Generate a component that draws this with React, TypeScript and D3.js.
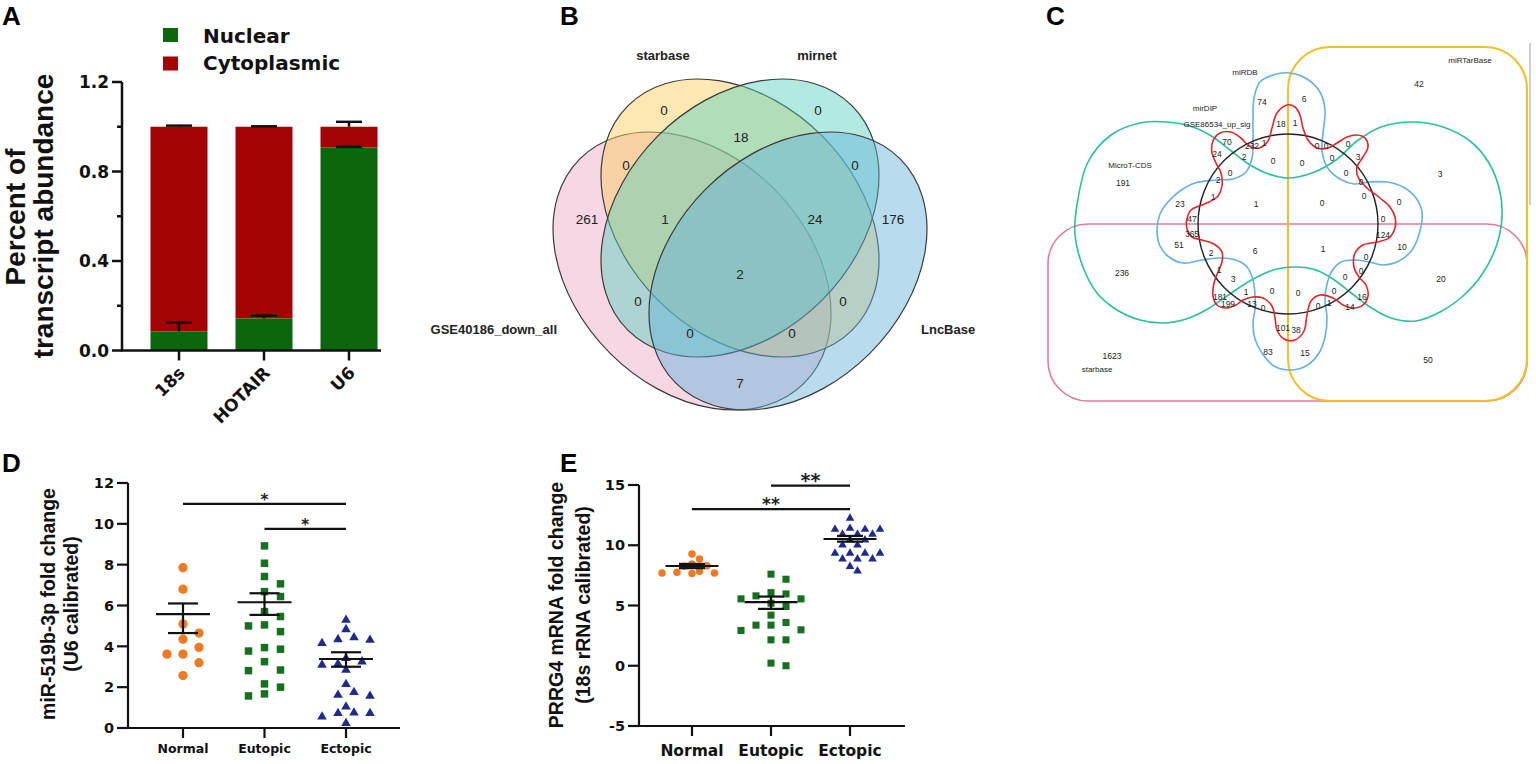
import React from 'react';
import * as d3 from 'd3';

const SANS = '"Liberation Sans", Arial, Helvetica, sans-serif';
const WIDE = '"DejaVu Sans", Verdana, sans-serif';

// ---------------- Panel A data ----------------
const aCategories = ['18s', 'HOTAIR', 'U6'];
const aNuclear = [0.085, 0.143, 0.908];
const aNuclearErr = [0.04, 0.013, 0.002];
const aTotal = [1.0, 1.0, 1.0];
const aTotalErr = [0.005, 0.002, 0.022];
const aMajorTicks = [0, 0.4, 0.8, 1.2];
const aMinorTicks = [0.2, 0.6, 1.0];
const aLegend = ['Nuclear', 'Cytoplasmic'];
const aColors = ['#0b670b', '#a30303'];

// ---------------- Panel B data ----------------
const bSetNames = ['GSE40186_down_all', 'starbase', 'mirnet', 'LncBase'];
const bColors = ['#eba6c2', '#fbcd58', '#55d1bd', '#62b2da'];
const bCounts = ['0', '18', '0', '0', '0', '261', '1', '24', '176', '2', '0', '0', '0', '0', '7'];

// ---------------- Panel C data ----------------
const cSetNames = ['miRDB', 'mirDIP', 'GSE86534_up_sig', 'MicroT-CDS', 'miRTarBase', 'starbase'];
const cCounts = [
  '74', '18', '1', '6', '70', '232', '1', '24', '2', '0', '191', '0', '2', '1', '23', '1',
  '42', '0', '0', '0', '0', '0', '3', '0', '0', '3', '0', '0', '0',
  '47', '365', '51', '2', '6', '236', '1', '3', '181', '1', '0', '199', '13', '0', '101', '83', '1623',
  '0', '124', '1', '10', '0', '0', '0', '20', '0', '0', '16', '0', '1', '14', '38', '15', '50',
];

// ---------------- Panel D data ----------------
const dGroups = ['Normal', 'Eutopic', 'Ectopic'];
const dNormal = [7.85, 6.8, 5.1, 4.65, 4.35, 3.95, 3.62, 3.62, 3.2, 2.57];
const dEutopic = [8.92, 8.07, 7.42, 7.06, 6.68, 6.44, 5.7, 5.46, 5.05, 5.0, 4.72, 3.94, 3.86, 3.77, 3.25, 2.84, 2.81, 2.16, 2.0, 1.67, 1.57];
const dEctopic = [5.29, 4.83, 4.43, 4.34, 4.31, 4.15, 3.42, 3.25, 3.14, 3.09, 2.84, 2.14, 1.75, 1.62, 1.57, 1.04, 0.75, 0.72, 0.72, 0.55, 0.23];
const dMean = [5.58, 6.16, 3.38];
const dSemHigh = [6.1, 6.6, 3.71];
const dSemLow = [4.65, 5.54, 3.0];
const dTicks = [0, 2, 4, 6, 8, 10, 12];
const dSig = [
  { a: 'Normal', b: 'Ectopic', y: 10.98, label: '*' },
  { a: 'Eutopic', b: 'Ectopic', y: 9.75, label: '*' },
];

// ---------------- Panel E data ----------------
const eGroups = ['Normal', 'Eutopic', 'Ectopic'];
const eNormal = [9.28, 8.86, 8.45, 8.3, 8.25, 7.85, 7.75, 7.7, 7.7, 7.65];
const eEutopic = [7.6, 7.18, 6.07, 5.96, 5.8, 5.55, 5.55, 5.19, 4.92, 4.2, 3.59, 3.37, 3.37, 2.98, 2.93, 2.15, 2.15, 0.22, 0.0];
const eEctopic = [12.24, 11.4, 11.32, 11.32, 11.32, 10.91, 10.91, 10.91, 10.44, 10.44, 10.02, 10.02, 9.33, 9.33, 9.33, 9.33, 8.86, 8.86, 8.86, 8.23, 7.87];
const eMean = [8.28, 5.28, 10.52];
const eSemHigh = [8.45, 5.74, 10.77];
const eSemLow = [8.1, 4.72, 10.3];
const eTicks = [-5, 0, 5, 10, 15];
const eSig = [
  { a: 'Eutopic', b: 'Ectopic', y: 14.94, label: '**' },
  { a: 'Normal', b: 'Ectopic', y: 13.0, label: '**' },
];

const markerColors = ['#ef7a22', '#17701f', '#1f2a8c'];
const markerTypes = [d3.symbolCircle, d3.symbolSquare, d3.symbolTriangle];

// ================= Panel A =================
function PanelA() {
  const y = d3.scaleLinear().domain([0, 1.2]).range([350.5, 82]);
  const x = d3.scalePoint<string>().domain(aCategories).range([179, 349]);
  const bw = 57;
  const axX = 122;
  const cap = 13;
  return (
    <g>
      <text x={2} y={25} fontFamily={SANS} fontWeight="bold" fontSize={26}>A</text>
      {aLegend.map((name, i) => (
        <g key={name}>
          <rect x={163} y={28 + i * 28.5} width={15} height={14} fill={aColors[i]} />
          <text x={203} y={42.5 + i * 27.5} fontFamily={WIDE} fontWeight="bold" fontSize={20} fill="#111">{name}</text>
        </g>
      ))}
      {aCategories.map((c, i) => {
        const cx = x(c)!;
        return (
          <g key={c}>
            <rect x={cx - bw / 2} y={y(aTotal[i])} width={bw} height={y(aNuclear[i]) - y(aTotal[i])} fill={aColors[1]} />
            <rect x={cx - bw / 2} y={y(aNuclear[i])} width={bw} height={y(0) - y(aNuclear[i])} fill={aColors[0]} />
            <line x1={cx} x2={cx} y1={y(aNuclear[i])} y2={y(aNuclear[i] + aNuclearErr[i])} stroke="#111" strokeWidth={2.5} />
            <line x1={cx - cap} x2={cx + cap} y1={y(aNuclear[i] + aNuclearErr[i])} y2={y(aNuclear[i] + aNuclearErr[i])} stroke="#111" strokeWidth={2.5} />
            <line x1={cx} x2={cx} y1={y(aTotal[i])} y2={y(aTotal[i] + aTotalErr[i])} stroke="#111" strokeWidth={2.5} />
            <line x1={cx - cap} x2={cx + cap} y1={y(aTotal[i] + aTotalErr[i])} y2={y(aTotal[i] + aTotalErr[i])} stroke="#111" strokeWidth={2.5} />
            <line x1={cx} x2={cx} y1={y(0)} y2={y(0) + 10} stroke="#111" strokeWidth={2.5} />
            <text transform={`translate(${cx + 7},${374}) rotate(-45)`} textAnchor="end" fontFamily={WIDE} fontWeight="bold" fontSize={17} fill="#111">{c}</text>
          </g>
        );
      })}
      <line x1={axX} x2={axX} y1={y(1.2)} y2={y(0)} stroke="#111" strokeWidth={2.5} />
      <line x1={axX - 1.25} x2={381} y1={y(0)} y2={y(0)} stroke="#111" strokeWidth={2.5} />
      {aMajorTicks.map((t) => (
        <g key={'M' + t}>
          <line x1={axX - 10} x2={axX} y1={y(t)} y2={y(t)} stroke="#111" strokeWidth={2.5} />
          <text x={109} y={y(t)} dy="0.36em" textAnchor="end" fontFamily={WIDE} fontWeight="bold" fontSize={17} fill="#111">{t.toFixed(1)}</text>
        </g>
      ))}
      {aMinorTicks.map((t) => (
        <line key={'m' + t} x1={axX - 5} x2={axX} y1={y(t)} y2={y(t)} stroke="#111" strokeWidth={2.5} />
      ))}
      <text transform="translate(25,217) rotate(-90)" textAnchor="middle" fontFamily={SANS} fontWeight="bold" fontSize={28} fill="#111">Percent of</text>
      <text transform="translate(53,216) rotate(-90)" textAnchor="middle" fontFamily={SANS} fontWeight="bold" fontSize={28} fill="#111">transcript abundance</text>
    </g>
  );
}

// ================= Panel B =================
const bRx = 158.6;
const bRy = 116.1;
const bEllipseLayout = [
  { cx: 692, cy: 271, rot: 45 },
  { cx: 740, cy: 218, rot: 45 },
  { cx: 740, cy: 218, rot: -45 },
  { cx: 788, cy: 271, rot: -45 },
];
const bCountPos: [number, number][] = [
  [664, 110], [741, 137], [818, 110], [626, 165], [855, 165], [587, 219], [665, 219], [815, 219], [893, 219],
  [740, 274], [638, 301], [843, 301], [690, 333], [792, 333], [740, 383],
];
const bNamePos: { x: number; y: number; anchor: string }[] = [
  { x: 557, y: 334, anchor: 'end' },
  { x: 663, y: 60, anchor: 'middle' },
  { x: 817, y: 60, anchor: 'middle' },
  { x: 921, y: 334, anchor: 'start' },
];

function PanelB() {
  return (
    <g>
      <text x={560} y={25} fontFamily={SANS} fontWeight="bold" fontSize={26}>B</text>
      {bEllipseLayout.map((e, i) => (
        <ellipse key={i} cx={e.cx} cy={e.cy} rx={bRx} ry={bRy} transform={`rotate(${e.rot} ${e.cx} ${e.cy})`}
          fill={bColors[i]} fillOpacity={0.45} stroke="#3a3a3a" strokeWidth={1.2} />
      ))}
      {bCounts.map((c, i) => (
        <text key={i} x={bCountPos[i][0]} y={bCountPos[i][1]} dy="0.36em" textAnchor="middle" fontFamily={SANS} fontSize={13.5} fill="#222">{c}</text>
      ))}
      {bSetNames.map((n, i) => (
        <text key={n} x={bNamePos[i].x} y={bNamePos[i].y} textAnchor={bNamePos[i].anchor as any} fontFamily={SANS} fontWeight="bold" fontSize={13} fill="#222">{n}</text>
      ))}
    </g>
  );
}

// ================= Panel C =================
const cRed: [number, number][] = [
  [1287, 105], [1295, 107], [1300, 115], [1303, 128], [1308, 140], [1317, 148], [1328, 148], [1337, 143], [1347, 137],
  [1357, 135], [1365, 138], [1368, 147], [1363, 157], [1357, 167], [1358, 177], [1367, 188], [1380, 198], [1390, 207],
  [1395, 217], [1395, 228], [1389, 238], [1377, 242], [1363, 245], [1355, 253], [1354, 267], [1359, 277], [1366, 285],
  [1368, 296], [1363, 305], [1353, 308], [1343, 305], [1333, 298], [1320, 295], [1311, 301], [1307, 315], [1304, 331],
  [1295, 340], [1284, 339], [1277, 330], [1275, 318], [1272, 306], [1263, 298], [1253, 297], [1243, 300], [1236, 305],
  [1226, 308], [1217, 305], [1213, 296], [1214, 283], [1218, 272], [1222, 262], [1222, 252], [1214, 244], [1202, 240],
  [1192, 237], [1187, 229], [1187, 219], [1191, 210], [1199, 206], [1209, 202], [1218, 196], [1222, 186], [1221, 173],
  [1216, 163], [1212, 153], [1213, 141], [1220, 133], [1231, 132], [1241, 138], [1249, 146], [1259, 148], [1268, 141],
  [1272, 128], [1277, 113],
];
const cBlue: [number, number][] = [
  [1260, 82], [1273, 75], [1290, 73], [1307, 79], [1320, 92], [1325, 110], [1323, 133], [1322, 150], [1327, 167],
  [1340, 179], [1354, 184], [1370, 182], [1387, 182], [1403, 187], [1416, 198], [1422, 212], [1420, 231], [1412, 250],
  [1399, 261], [1383, 265], [1369, 262], [1355, 260], [1341, 262], [1332, 271], [1327, 284], [1325, 300], [1327, 318],
  [1325, 337], [1319, 353], [1306, 366], [1290, 370], [1274, 366], [1262, 353], [1255, 339], [1253, 323], [1255, 309],
  [1255, 295], [1253, 280], [1247, 267], [1236, 260], [1220, 258], [1202, 260], [1183, 263], [1169, 257], [1160, 246],
  [1157, 230], [1160, 214], [1168, 202], [1180, 191], [1195, 183], [1216, 180], [1233, 179], [1246, 172], [1252, 158],
  [1253, 140], [1253, 118], [1254, 98],
];
const cTeal: [number, number][] = [
  [1077, 205], [1088, 162], [1111, 135], [1140, 123], [1167, 122], [1193, 127], [1213, 137], [1230, 150], [1247, 163],
  [1266, 173], [1287, 178], [1312, 173], [1336, 160], [1357, 141], [1381, 127], [1413, 122], [1443, 127], [1470, 141],
  [1489, 163], [1500, 192], [1502, 217], [1497, 244], [1483, 273], [1463, 296], [1440, 312], [1416, 321], [1391, 318],
  [1370, 307], [1350, 292], [1333, 279], [1316, 270], [1296, 267], [1273, 270], [1248, 282], [1227, 296], [1206, 310],
  [1186, 319], [1163, 323], [1140, 320], [1117, 310], [1097, 293], [1083, 267], [1075, 235],
];
const cCircle = { cx: 1288, cy: 224, r: 90 };
const cCountPos: [number, number][] = [
  [1262, 102], [1281, 124], [1295, 123], [1304, 99], [1227, 142], [1252, 146], [1264, 143], [1217, 154], [1244, 157],
  [1273, 161], [1123, 183], [1230, 173], [1218, 180], [1213, 197], [1180, 204], [1256, 204],
  [1419, 84], [1317, 146], [1326, 146], [1348, 144], [1302, 163], [1332, 158], [1358, 157], [1346, 173], [1361, 182],
  [1440, 174], [1364, 196], [1322, 203], [1399, 202],
  [1192, 219], [1192, 234], [1179, 245], [1211, 253], [1255, 251], [1122, 273], [1219, 270], [1233, 279], [1220, 297],
  [1246, 292], [1272, 291], [1228, 304], [1252, 304], [1263, 308], [1283, 328], [1268, 352], [1112, 356],
  [1383, 219], [1383, 235], [1323, 249], [1402, 247], [1366, 257], [1361, 271], [1345, 277], [1441, 279], [1298, 293],
  [1334, 291], [1362, 297], [1318, 306], [1329, 303], [1350, 307], [1296, 330], [1305, 353], [1428, 360],
];
const cNamePos: [number, number][] = [
  [1245, 72], [1205, 108], [1217, 124], [1130, 165], [1470, 60], [1097, 369],
];

function PanelC() {
  const line = d3.line<[number, number]>().x((d) => d[0]).y((d) => d[1]).curve(d3.curveCatmullRomClosed.alpha(0.5));
  return (
    <g>
      <text x={1046} y={25} fontFamily={SANS} fontWeight="bold" fontSize={26}>C</text>
      <line x1={1530} x2={1530} y1={43} y2={205} stroke="#cfcfcf" strokeWidth={2} />
      <rect x={1048} y={224} width={479} height={177} rx={40} ry={40} fill="none" stroke="#e07c9f" strokeWidth={1.6} />
      <rect x={1288} y={47} width={239} height={354} rx={42} ry={42} fill="none" stroke="#f0c02c" strokeWidth={2} />
      <path d={line(cTeal)!} fill="none" stroke="#2bbf9f" strokeWidth={1.6} />
      <path d={line(cBlue)!} fill="none" stroke="#63b2dc" strokeWidth={1.6} />
      <circle cx={cCircle.cx} cy={cCircle.cy} r={cCircle.r} fill="none" stroke="#222" strokeWidth={1.4} />
      <path d={line(cRed)!} fill="none" stroke="#e3242b" strokeWidth={1.6} />
      {cCounts.map((c, i) => (
        <text key={i} x={cCountPos[i][0]} y={cCountPos[i][1]} dy="0.36em" textAnchor="middle" fontFamily={SANS} fontSize={8.5} fill="#222">{c}</text>
      ))}
      {cSetNames.map((n, i) => (
        <text key={n} x={cNamePos[i][0]} y={cNamePos[i][1]} dy="0.36em" textAnchor="middle" fontFamily={SANS} fontSize={8} fill="#222">{n}</text>
      ))}
    </g>
  );
}

// ================= Scatter panels D & E =================
function swarmOffsets(values: number[], y: (v: number) => number, step: number, diam: number): number[] {
  const order = values.map((_, i) => i).sort((a, b) => values[b] - values[a]);
  const placed: [number, number][] = [];
  const out = new Array(values.length).fill(0);
  for (const i of order) {
    const py = y(values[i]);
    for (let k = 0; k < 60; k++) {
      const o = k === 0 ? 0 : (k % 2 === 1 ? 1 : -1) * Math.ceil(k / 2) * step;
      if (placed.every(([px, qy]) => Math.hypot(px - o, qy - py) >= diam)) {
        out[i] = o;
        placed.push([o, py]);
        break;
      }
    }
  }
  return out;
}

type ScatterCfg = {
  letter: string; letterX: number; letterY: number;
  groups: string[]; series: number[][]; mean: number[]; semHigh: number[]; semLow: number[];
  ticks: number[]; domain: [number, number]; yRange: [number, number]; xRange: [number, number];
  axisX: number; axisEnd: number; tickLabelX: number; tickFont: number;
  xLabelY: number; xLabelFont: number;
  titles: string[]; titleX: number[]; titleY: number; titleFont: number;
  sig: { a: string; b: string; y: number; label: string }[]; sigFont: number[];
  steps: number[]; diam: number[]; sizes: number[];
  meanHalf: number; capHalf: number;
};

function ScatterPanel({ cfg }: { cfg: ScatterCfg }) {
  const y = d3.scaleLinear().domain(cfg.domain).range(cfg.yRange);
  const x = d3.scalePoint<string>().domain(cfg.groups).range(cfg.xRange);
  const base = y(cfg.domain[0]);
  return (
    <g>
      <text x={cfg.letterX} y={cfg.letterY} fontFamily={SANS} fontWeight="bold" fontSize={26}>{cfg.letter}</text>
      {cfg.titles.map((t, i) => (
        <text key={t} transform={`translate(${cfg.titleX[i]},${cfg.titleY}) rotate(-90)`} textAnchor="middle"
          fontFamily={SANS} fontWeight="bold" fontSize={cfg.titleFont} fill="#111">{t}</text>
      ))}
      <line x1={cfg.axisX} x2={cfg.axisX} y1={y(cfg.domain[1])} y2={base} stroke="#111" strokeWidth={2.2} />
      <line x1={cfg.axisX - 1.1} x2={cfg.axisEnd} y1={base} y2={base} stroke="#111" strokeWidth={2.2} />
      {cfg.ticks.map((t) => (
        <g key={t}>
          <line x1={cfg.axisX - 11} x2={cfg.axisX} y1={y(t)} y2={y(t)} stroke="#111" strokeWidth={2.2} />
          <text x={cfg.tickLabelX} y={y(t)} dy="0.36em" textAnchor="end" fontFamily={WIDE} fontWeight="bold" fontSize={cfg.tickFont} fill="#111">{t}</text>
        </g>
      ))}
      {cfg.groups.map((g, gi) => {
        const cx = x(g)!;
        const offs = swarmOffsets(cfg.series[gi], (v) => y(v), cfg.steps[gi], cfg.diam[gi]);
        const sym = d3.symbol().type(markerTypes[gi]).size(cfg.sizes[gi])()!;
        return (
          <g key={g}>
            <line x1={cx} x2={cx} y1={base} y2={base + 10} stroke="#111" strokeWidth={2.2} />
            <text x={cx} y={cfg.xLabelY} textAnchor="middle" fontFamily={WIDE} fontWeight="bold" fontSize={cfg.xLabelFont} fill="#111">{g}</text>
            {cfg.series[gi].map((v, i) => (
              <path key={i} d={sym} transform={`translate(${cx + offs[i]},${y(v)})`} fill={markerColors[gi]} />
            ))}
            <line x1={cx - cfg.meanHalf} x2={cx + cfg.meanHalf} y1={y(cfg.mean[gi])} y2={y(cfg.mean[gi])} stroke="#111" strokeWidth={2.2} />
            <line x1={cx} x2={cx} y1={y(cfg.semLow[gi])} y2={y(cfg.semHigh[gi])} stroke="#111" strokeWidth={2.2} />
            <line x1={cx - cfg.capHalf} x2={cx + cfg.capHalf} y1={y(cfg.semLow[gi])} y2={y(cfg.semLow[gi])} stroke="#111" strokeWidth={2.2} />
            <line x1={cx - cfg.capHalf} x2={cx + cfg.capHalf} y1={y(cfg.semHigh[gi])} y2={y(cfg.semHigh[gi])} stroke="#111" strokeWidth={2.2} />
          </g>
        );
      })}
      {cfg.sig.map((s, i) => {
        const x1 = x(s.a)!;
        const x2 = x(s.b)!;
        const yy = y(s.y);
        return (
          <g key={i}>
            <line x1={x1} x2={x2} y1={yy} y2={yy} stroke="#111" strokeWidth={2.2} />
            <text x={(x1 + x2) / 2} y={yy + cfg.sigFont[i] * 0.08} textAnchor="middle" fontFamily={WIDE} fontWeight="bold" fontSize={cfg.sigFont[i]} fill="#222">{s.label}</text>
          </g>
        );
      })}
    </g>
  );
}

const dCfg: ScatterCfg = {
  letter: 'D', letterX: 2, letterY: 472,
  groups: dGroups, series: [dNormal, dEutopic, dEctopic], mean: dMean, semHigh: dSemHigh, semLow: dSemLow,
  ticks: dTicks, domain: [0, 12], yRange: [728, 483], xRange: [183, 346],
  axisX: 128, axisEnd: 400, tickLabelX: 114, tickFont: 14.5,
  xLabelY: 753, xLabelFont: 12.5,
  titles: ['miR-519b-3p fold change', '(U6 calibrated)'], titleX: [55, 78], titleY: 604, titleFont: 19.5,
  sig: dSig, sigFont: [15, 15],
  steps: [16, 16, 8], diam: [9.5, 10, 9], sizes: [68, 56, 40],
  meanHalf: 27, capHalf: 15,
};

const eCfg: ScatterCfg = {
  letter: 'E', letterX: 560, letterY: 472,
  groups: eGroups, series: [eNormal, eEutopic, eEctopic], mean: eMean, semHigh: eSemHigh, semLow: eSemLow,
  ticks: eTicks, domain: [-5, 15], yRange: [726, 485], xRange: [692, 850],
  axisX: 639, axisEnd: 905, tickLabelX: 625, tickFont: 14.5,
  xLabelY: 756, xLabelFont: 15.5,
  titles: ['PRRG4 mRNA fold change', '(18s rRNA calibrated)'], titleX: [563, 590], titleY: 605, titleFont: 19.5,
  sig: eSig, sigFont: [19, 17],
  steps: [7.5, 15, 7.5], diam: [7.8, 8.5, 8], sizes: [44, 50, 32],
  meanHalf: 26.5, capHalf: 13,
};

export default function App() {
  return (
    <svg width={1536} height={764} viewBox="0 0 1536 764"
      style={{ position: 'absolute', left: 0, top: 0, display: 'block', background: '#fff' }}>
      <rect width={1536} height={764} fill="#fff" />
      <PanelA />
      <PanelB />
      <PanelC />
      <ScatterPanel cfg={dCfg} />
      <ScatterPanel cfg={eCfg} />
    </svg>
  );
}
